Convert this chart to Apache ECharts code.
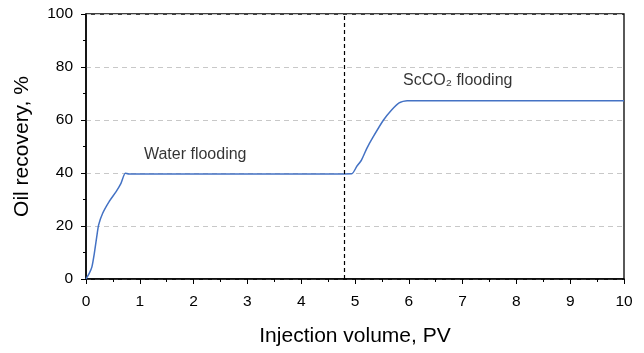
<!DOCTYPE html>
<html>
<head>
<meta charset="utf-8">
<script src="https://cdn.jsdelivr.net/npm/echarts@6/dist/echarts.min.js"></script>
<style>
  html, body { margin: 0; padding: 0; background: #fff; }
  #chart { width: 644px; height: 353px; }
</style>
</head>
<body>
<div id="chart"></div>
<script>
// Cumulative oil recovery vs. injected pore volumes
const injectionPV = [0, 0.06, 0.11, 0.155, 0.2, 0.235, 0.31, 0.43, 0.56, 0.65, 0.73, 0.8, 1.5, 2.5, 3.5, 4.5, 4.94, 5.03, 5.12, 5.22, 5.34, 5.53, 5.68, 5.82, 5.97, 7, 8, 9, 10];
const oilRecovery = [0, 2.1, 4.6, 9.7, 16, 20.4, 24.8, 29.2, 33, 36.1, 39.9, 39.6, 39.6, 39.6, 39.6, 39.6, 39.7, 42.4, 44.9, 49.3, 53.7, 60, 63.8, 66.5, 67.3, 67.3, 67.3, 67.3, 67.3];

// Switch from water to supercritical CO2 injection
const switchPV = 4.8;

// Stage annotations: [PV, recovery, text]
const stageLabels = [
  [2.03, 47.0, 'Water flooding'],
  [6.91, 74.7, 'ScCO\u2082 flooding']
];

const xTicks = { min: 0, max: 10, interval: 1 };
const yTicks = { min: 0, max: 100, interval: 20 };

const font = 'Liberation Sans, Arial, sans-serif';
const chart = echarts.init(document.getElementById('chart'), null, { renderer: 'canvas' });

chart.setOption({
  animation: false,
  backgroundColor: '#fff',
  grid: {
    left: 86, right: 20, top: 14, bottom: 74,
    show: true, borderColor: '#000', borderWidth: 1.3, backgroundColor: 'transparent'
  },
  xAxis: {
    type: 'value',
    min: xTicks.min, max: xTicks.max, interval: xTicks.interval,
    name: 'Injection volume, PV',
    nameLocation: 'middle', nameGap: 47,
    nameTextStyle: { fontFamily: font, fontSize: 21, color: '#000' },
    axisLine: { lineStyle: { color: '#000', width: 1.5 } },
    axisTick: { inside: false, length: 5, lineStyle: { color: '#000', width: 1 } },
    minorTick: { show: true, splitNumber: 2, length: 3, lineStyle: { color: '#000', width: 1 } },
    axisLabel: { fontFamily: font, fontSize: 15.5, color: '#000', margin: 15 },
    splitLine: { show: false }
  },
  yAxis: {
    type: 'value',
    min: yTicks.min, max: yTicks.max, interval: yTicks.interval,
    name: 'Oil recovery, %',
    nameLocation: 'middle', nameGap: 53,
    nameTextStyle: { fontFamily: font, fontSize: 21, color: '#000' },
    axisLine: { show: true, lineStyle: { color: '#000', width: 1.5 } },
    axisTick: { show: true, inside: false, length: 5, lineStyle: { color: '#000', width: 1 } },
    minorTick: { show: true, splitNumber: 2, length: 3, lineStyle: { color: '#000', width: 1 } },
    axisLabel: { fontFamily: font, fontSize: 15.5, color: '#000', margin: 13 },
    splitLine: { show: true, lineStyle: { color: '#c8c8c8', type: [5, 4], width: 1 } }
  },
  series: [
    {
      name: 'Oil recovery',
      type: 'line',
      data: injectionPV.map((x, i) => [x, oilRecovery[i]]),
      showSymbol: false,
      smooth: 0.2,
      lineStyle: { color: '#4472c4', width: 1.5 },
      z: 3,
      markLine: {
        silent: true,
        symbol: 'none',
        label: { show: false },
        lineStyle: { color: '#000', type: [4, 3], width: 1.2 },
        data: [{ xAxis: switchPV }]
      }
    },
    {
      name: 'Stages',
      type: 'scatter',
      symbolSize: 0,
      data: stageLabels.map(d => ({ value: [d[0], d[1]], name: d[2] })),
      label: {
        show: true, position: 'inside',
        formatter: p => p.name,
        fontFamily: font, fontSize: 16, color: '#000'
      },
      z: 4
    }
  ]
});
</script>
</body>
</html>
